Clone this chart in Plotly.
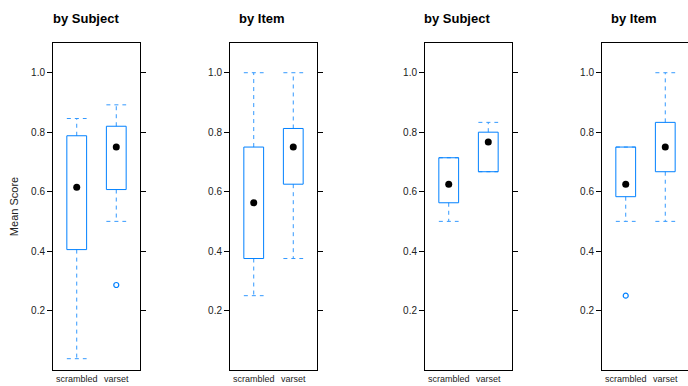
import plotly.graph_objects as go

# Summary statistics for the two conditions in each panel
categories = ["scrambled", "varset"]
panel_titles = ["by Subject", "by Item", "by Subject", "by Item"]

lower_whisker = [[0.038, 0.500], [0.250, 0.375], [0.500, 0.667], [0.500, 0.500]]
q1 = [[0.405, 0.607], [0.375, 0.625], [0.5625, 0.667], [0.583, 0.667]]
median = [[0.615, 0.750], [0.5625, 0.750], [0.625, 0.767], [0.625, 0.750]]
q3 = [[0.788, 0.820], [0.750, 0.8125], [0.714, 0.800], [0.750, 0.833]]
upper_whisker = [[0.846, 0.892], [1.000, 1.000], [0.714, 0.833], [0.750, 1.000]]
outliers = [[[], [0.286]], [[], []], [[], []], [[0.250], []]]

y_ticks = [0.2, 0.4, 0.6, 0.8, 1.0]

# Page geometry (pixels)
W, H = 688, 386
panel_left = [53, 230, 425, 602]
panel_width = 87
panel_top, panel_bottom = 43, 370
title_centers = [85.7, 262, 457, 634]

BLUE = "#0080ff"
WHISKER_BLUE = "#3399ff"
TEXT = "#222222"
HALF = 0.25          # half box width in category units
X_RANGE = (0.4, 2.6)

fig = go.Figure()

for p in range(4):
    sfx = "" if p == 0 else str(p + 1)
    xa, ya = "x" + sfx, "y" + sfx

    bx, by, wx, wy = [], [], [], []
    for i, _ in enumerate(categories):
        c = i + 1
        # box outline
        bx += [c - HALF, c + HALF, c + HALF, c - HALF, c - HALF, None]
        by += [q1[p][i], q1[p][i], q3[p][i], q3[p][i], q1[p][i], None]
        # whiskers with caps
        wx += [c, c, None, c - HALF, c + HALF, None,
               c, c, None, c - HALF, c + HALF, None]
        wy += [q3[p][i], upper_whisker[p][i], None,
               upper_whisker[p][i], upper_whisker[p][i], None,
               q1[p][i], lower_whisker[p][i], None,
               lower_whisker[p][i], lower_whisker[p][i], None]

    fig.add_trace(go.Scatter(x=wx, y=wy, mode="lines", xaxis=xa, yaxis=ya,
                             line=dict(color=WHISKER_BLUE, width=1, dash="4px,4px"),
                             hoverinfo="skip", showlegend=False))
    fig.add_trace(go.Scatter(x=bx, y=by, mode="lines", xaxis=xa, yaxis=ya,
                             line=dict(color=BLUE, width=1),
                             hoverinfo="skip", showlegend=False))
    fig.add_trace(go.Scatter(x=[i + 1 for i in range(len(categories))],
                             y=median[p], mode="markers", xaxis=xa, yaxis=ya,
                             marker=dict(color="black", size=7),
                             showlegend=False))
    ox, oy = [], []
    for i, vals in enumerate(outliers[p]):
        ox += [i + 1] * len(vals)
        oy += vals
    fig.add_trace(go.Scatter(x=ox, y=oy, mode="markers", xaxis=xa, yaxis=ya,
                             marker=dict(symbol="circle-open", color=BLUE, size=5,
                                         line=dict(width=1.2, color=BLUE)),
                             showlegend=False))

    x0 = panel_left[p] / W
    x1 = min((panel_left[p] + panel_width) / W, 1.0)
    xr1 = X_RANGE[0] + (X_RANGE[1] - X_RANGE[0]) * (x1 - x0) * W / panel_width
    last = p == 3

    fig.layout["xaxis" + sfx] = dict(
        domain=[x0, x1], range=[X_RANGE[0], xr1], anchor=ya,
        tickvals=[1, 2], ticktext=categories, ticks="",
        showline=True, linecolor="black", linewidth=1, mirror=True,
        showgrid=False, zeroline=False,
        tickfont=dict(size=9, color=TEXT), fixedrange=True)
    fig.layout["yaxis" + sfx] = dict(
        domain=[(H - panel_bottom) / H, (H - panel_top) / H],
        range=[0.0, 1.1], anchor=xa,
        tickvals=y_ticks, tickformat=".1f", ticks="outside", ticklen=5,
        tickcolor="black", tickwidth=1,
        showline=True, linecolor="black", linewidth=1,
        mirror=False if last else "ticks",
        showgrid=False, zeroline=False,
        tickfont=dict(size=10, color=TEXT), fixedrange=True)

    fig.add_annotation(text="<b>%s</b>" % panel_titles[p], xref="paper", yref="paper",
                       x=title_centers[p] / W, y=(H - 18) / H,
                       xanchor="center", yanchor="middle", showarrow=False,
                       font=dict(size=13, color="black"))

fig.layout.yaxis.title = dict(text="Mean Score", font=dict(size=11, color=TEXT),
                              standoff=10)

fig.update_layout(width=W, height=H, margin=dict(l=0, r=0, t=0, b=0),
                  paper_bgcolor="white", plot_bgcolor="white",
                  font=dict(family="Liberation Sans, Arial, sans-serif"))

fig.write_html("out.html")
